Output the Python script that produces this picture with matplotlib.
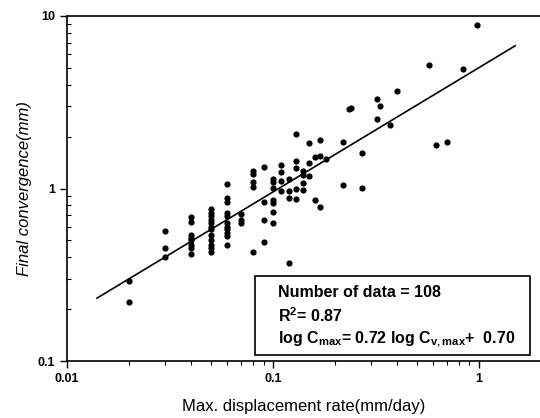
import numpy as np
import matplotlib
matplotlib.use("Agg")
import matplotlib.pyplot as plt
from matplotlib.patches import Rectangle
from matplotlib.ticker import LogLocator, NullFormatter, FixedFormatter, FixedLocator

plt.rcParams["font.family"] = ["Liberation Sans", "DejaVu Sans"]
plt.rcParams["mathtext.fontset"] = "custom"
plt.rcParams["mathtext.rm"] = "Liberation Sans:bold"
plt.rcParams["mathtext.default"] = "rm"

# max displacement rate (mm/day) and final convergence (mm)
rate = [
    0.02, 0.02,
    0.03, 0.03, 0.03,
    0.04, 0.04, 0.04, 0.04, 0.04, 0.04, 0.04, 0.04,
    0.05, 0.05, 0.05, 0.05, 0.05, 0.05, 0.05, 0.05, 0.05, 0.05, 0.05, 0.05,
    0.06, 0.06, 0.06, 0.06, 0.06, 0.06, 0.06, 0.06, 0.06, 0.06, 0.06,
    0.07, 0.07, 0.07,
    0.08, 0.08, 0.08, 0.08, 0.08,
    0.09, 0.09, 0.09, 0.09,
    0.10, 0.10, 0.10, 0.10, 0.10, 0.10, 0.10,
    0.11, 0.11, 0.11, 0.11,
    0.12, 0.12, 0.12, 0.12,
    0.13, 0.13, 0.13, 0.13, 0.13,
    0.14, 0.14, 0.14, 0.14,
    0.15, 0.15, 0.15,
    0.16, 0.16,
    0.17, 0.17, 0.17,
    0.18,
    0.22, 0.22,
    0.235, 0.24,
    0.27, 0.27,
    0.32, 0.32, 0.33,
    0.37, 0.40,
    0.57, 0.62, 0.70, 0.84, 0.98,
]
conv = [
    0.29, 0.22,
    0.57, 0.45, 0.40,
    0.68, 0.64, 0.54, 0.52, 0.50, 0.47, 0.45, 0.42,
    0.76, 0.72, 0.69, 0.66, 0.63, 0.60, 0.58, 0.54, 0.50, 0.47, 0.45, 0.43,
    1.06, 0.88, 0.84, 0.72, 0.69, 0.63, 0.60, 0.58, 0.55, 0.53, 0.47,
    0.71, 0.66, 0.63,
    1.26, 1.21, 1.09, 1.02, 0.43,
    1.33, 0.84, 0.66, 0.49,
    1.13, 1.09, 1.01, 0.86, 0.82, 0.73, 0.63,
    1.36, 1.24, 1.10, 0.97,
    1.13, 0.97, 0.88, 0.37,
    2.08, 1.44, 1.32, 1.00, 0.87,
    1.27, 1.19, 1.07, 0.98,
    1.83, 1.40, 1.18,
    1.53, 0.86,
    1.90, 1.54, 0.78,
    1.49,
    1.85, 1.05,
    2.90, 2.92,
    1.60, 1.01,
    3.28, 2.54, 3.00,
    2.32, 3.65,
    5.21, 1.79, 1.85, 4.95, 8.89,
]

# regression: log C = 0.72 log Cv + 0.70
fit_slope = 0.72
fit_icpt = 0.70
fit_range = [0.014, 1.5]

box_lines = [
    "Number of data = 108",
    "R$^{2}$= 0.87",
    "log C$_{max}$= 0.72 log C$_{v,max}$+  0.70",
]

fig = plt.figure(figsize=(5.4, 4.18), dpi=100)
ax = fig.add_axes([0.124, 0.136, 0.876, 0.826])

ax.scatter(rate, conv, s=20, color="black", zorder=3, linewidths=0)

xf = np.logspace(np.log10(fit_range[0]), np.log10(fit_range[1]), 50)
ax.plot(xf, 10 ** (fit_icpt + fit_slope * np.log10(xf)), color="black", lw=1.2)

ax.set_xscale("log")
ax.set_yscale("log")
ax.set_xlim(0.01, 1.98)
ax.set_ylim(0.1, 10)

ax.xaxis.set_major_locator(FixedLocator([0.01, 0.1, 1]))
ax.xaxis.set_major_formatter(FixedFormatter(["0.01", "0.1", "1"]))
ax.yaxis.set_major_locator(FixedLocator([0.1, 1, 10]))
ax.yaxis.set_major_formatter(FixedFormatter(["0.1", "1", "10"]))
ax.xaxis.set_minor_locator(LogLocator(base=10, subs=np.arange(2, 10)))
ax.yaxis.set_minor_locator(LogLocator(base=10, subs=np.arange(2, 10)))
ax.xaxis.set_minor_formatter(NullFormatter())
ax.yaxis.set_minor_formatter(NullFormatter())

ax.tick_params(which="major", direction="out", length=5, width=1, labelsize=9)
ax.tick_params(axis="y", which="minor", direction="in", length=3, width=0.8)
ax.tick_params(axis="x", which="minor", direction="out", length=3, width=0.8)
for lab in ax.get_xticklabels() + ax.get_yticklabels():
    lab.set_fontweight("bold")

ax.spines["right"].set_visible(False)
for s in ["left", "bottom", "top"]:
    ax.spines[s].set_linewidth(1.2)

ax.set_xlabel("Max. displacement rate(mm/day)", fontsize=12, labelpad=10)
ax.set_ylabel("Final convergence(mm)", fontsize=12, style="italic", labelpad=4)

# statistics box
ax.add_patch(Rectangle((0.397, 0.017), 0.582, 0.229, transform=ax.transAxes,
                       facecolor="white", edgecolor="black", lw=1.2, zorder=4))
for yy, line in zip([0.200, 0.133, 0.064], box_lines):
    ax.text(0.446, yy, line, transform=ax.transAxes, fontsize=11.5,
            fontweight="bold", va="center", ha="left", zorder=5)

fig.savefig("out.png", dpi=100)
